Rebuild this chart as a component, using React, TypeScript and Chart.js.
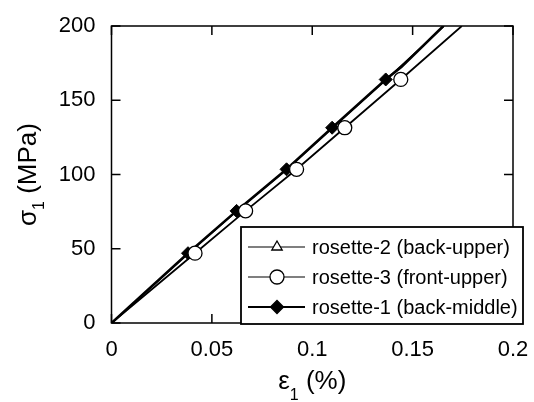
import React, { useEffect, useRef } from 'react';
import { Chart, registerables } from 'chart.js';
import { drawPoint } from 'chart.js/helpers';

Chart.register(...registerables);

// ---- data ----
const xTickValues = [0, 0.05, 0.1, 0.15, 0.2];
const xTickLabels = ['0', '0.05', '0.1', '0.15', '0.2'];
const yTickValues = [0, 50, 100, 150, 200];
const yTickLabels = ['0', '50', '100', '150', '200'];

// rosette-1 (back-middle), filled diamonds
const r1X = [0, 0.0381, 0.0623, 0.0872, 0.1099, 0.1366, 0.1445, 0.1653];
const r1Y = [0, 47, 75.5, 103.5, 131.5, 164, 172.5, 200];
const r1Marked = [false, true, true, true, true, true, false, false];

// rosette-2 (back-upper), open triangles (hidden under the diamonds)
const r2X = [0, 0.0383, 0.0625, 0.0874, 0.1101, 0.1368, 0.1657];
const r2Y = [0, 47, 75.5, 103.5, 131.5, 164, 200];
const r2Marked = [false, true, true, true, true, true, false];

// rosette-3 (front-upper), open circles
const r3X = [0, 0.0416, 0.0668, 0.0922, 0.1162, 0.1441, 0.1745];
const r3Y = [0, 47, 75.5, 103.5, 131.5, 164, 200];
const r3Marked = [false, true, true, true, true, true, false];

const legendLabels = ['rosette-2 (back-upper)', 'rosette-3 (front-upper)', 'rosette-1 (back-middle)'];

const FONT = '"Liberation Sans", Arial, Helvetica, sans-serif';

const toPoints = (xs: number[], ys: number[]) => xs.map((x, i) => ({ x, y: ys[i] }));

function drawParts(ctx: CanvasRenderingContext2D, parts: { t: string; size: number; dy: number }[], cx: number) {
  let total = 0;
  const widths = parts.map((p) => {
    ctx.font = `${p.size}px ${FONT}`;
    const w = ctx.measureText(p.t).width;
    total += w;
    return w;
  });
  let x = cx - total / 2;
  parts.forEach((p, i) => {
    ctx.font = `${p.size}px ${FONT}`;
    ctx.fillText(p.t, x, p.dy);
    x += widths[i];
  });
}

const decorPlugin = {
  id: 'decor',
  afterDraw(chart: any) {
    const { ctx, chartArea } = chart;
    const { left, right, top, bottom } = chartArea;
    const xs = chart.scales.x;
    const ys = chart.scales.y;
    ctx.save();
    ctx.strokeStyle = '#000';
    ctx.fillStyle = '#000';
    ctx.lineWidth = 1.5;
    // frame
    ctx.strokeRect(left, top, right - left, bottom - top);
    // inward ticks on all sides
    const tl = 9;
    ctx.beginPath();
    xTickValues.forEach((v) => {
      const px = xs.getPixelForValue(v);
      ctx.moveTo(px, bottom);
      ctx.lineTo(px, bottom - tl);
      ctx.moveTo(px, top);
      ctx.lineTo(px, top + tl);
    });
    yTickValues.forEach((v) => {
      const py = ys.getPixelForValue(v);
      ctx.moveTo(left, py);
      ctx.lineTo(left + tl, py);
      ctx.moveTo(right, py);
      ctx.lineTo(right - tl, py);
    });
    ctx.stroke();

    // legend box
    const bw = 282;
    const bh = 97;
    const bx = right + 10 - bw;
    const by = bottom + 1 - bh;
    ctx.fillStyle = '#fff';
    ctx.fillRect(bx, by, bw, bh);
    ctx.strokeStyle = '#000';
    ctx.lineWidth = 1.8;
    ctx.strokeRect(bx, by, bw, bh);

    const ds = chart.data.datasets;
    const byLabel: any = {};
    ds.forEach((d: any) => (byLabel[d.label] = d));
    legendLabels.forEach((lab, i) => {
      const d = byLabel[lab];
      const ry = by + 20 + i * 30;
      ctx.strokeStyle = '#000';
      ctx.lineWidth = d.legendLineWidth;
      ctx.beginPath();
      ctx.moveTo(bx + 7, ry);
      ctx.lineTo(bx + 64, ry);
      ctx.stroke();
      ctx.fillStyle = d.pointBackgroundColor;
      ctx.strokeStyle = '#000';
      ctx.lineWidth = 1.3;
      drawPoint(ctx, { pointStyle: d.pointStyle, radius: d.legendRadius, rotation: 0, borderWidth: 1.3 }, bx + 36, ry);
      ctx.fillStyle = '#000';
      ctx.font = `20px ${FONT}`;
      ctx.textBaseline = 'middle';
      ctx.textAlign = 'left';
      ctx.fillText(lab, bx + 71, ry + 1);
    });

    // axis titles with subscripts
    ctx.fillStyle = '#000';
    ctx.textBaseline = 'alphabetic';
    ctx.textAlign = 'left';
    const cx = (left + right) / 2;
    ctx.save();
    ctx.translate(0, bottom + 66);
    drawParts(ctx, [
      { t: 'ε', size: 26, dy: 0 },
      { t: '1', size: 16, dy: 11 },
      { t: ' (%)', size: 26, dy: 0 },
    ], cx);
    ctx.restore();

    const cy = (top + bottom) / 2;
    ctx.save();
    ctx.translate(left - 76, cy);
    ctx.rotate(-Math.PI / 2);
    drawParts(ctx, [
      { t: 'σ', size: 26, dy: 0 },
      { t: '1', size: 16, dy: 8 },
      { t: ' (MPa)', size: 26, dy: 0 },
    ], 0);
    ctx.restore();

    ctx.restore();
  },
};

export default function App() {
  const ref = useRef<HTMLCanvasElement | null>(null);
  useEffect(() => {
    if (!ref.current) return;
    const tickFont = { family: FONT, size: 22 };
    const chart = new Chart(ref.current, {
      type: 'scatter',
      data: {
        datasets: [
          {
            label: 'rosette-3 (front-upper)',
            data: toPoints(r3X, r3Y),
            showLine: true,
            borderColor: '#000',
            borderWidth: 1.8,
            pointStyle: 'circle',
            pointRadius: r3Marked.map((m) => (m ? 7 : 0)),
            pointBackgroundColor: '#fff',
            pointBorderColor: '#000',
            pointBorderWidth: 1.3,
            legendRadius: 7,
            legendLineWidth: 1.2,
          } as any,
          {
            label: 'rosette-1 (back-middle)',
            data: toPoints(r1X, r1Y),
            showLine: true,
            borderColor: '#000',
            borderWidth: 2.6,
            pointStyle: 'rectRot',
            pointRadius: r1Marked.map((m) => (m ? 6.5 : 0)),
            pointBackgroundColor: '#000',
            pointBorderColor: '#000',
            pointBorderWidth: 1,
            legendRadius: 6.5,
            legendLineWidth: 2,
          } as any,
          {
            label: 'rosette-2 (back-upper)',
            data: toPoints(r2X, r2Y),
            showLine: true,
            borderColor: '#000',
            borderWidth: 1.4,
            pointStyle: 'triangle',
            pointRadius: r2Marked.map((m) => (m ? 3.5 : 0)),
            pointBackgroundColor: '#fff',
            pointBorderColor: '#000',
            pointBorderWidth: 1,
            legendRadius: 6,
            legendLineWidth: 1.2,
          } as any,
        ],
      },
      options: {
        animation: false,
        responsive: false,
        events: [],
        layout: { padding: { top: 26, right: 21, left: 0, bottom: 0 } },
        plugins: { legend: { display: false }, tooltip: { enabled: false } },
        scales: {
          x: {
            type: 'linear',
            min: 0,
            max: 0.2,
            grid: { display: false, drawTicks: false, tickLength: 0 },
            border: { display: false },
            afterBuildTicks: (s: any) => {
              s.ticks = xTickValues.map((v) => ({ value: v }));
            },
            afterFit: (s: any) => {
              s.height = 79;
              s.paddingLeft = 0;
              s.paddingRight = 0;
            },
            ticks: {
              color: '#000',
              font: tickFont,
              padding: 14,
              maxRotation: 0,
              callback: (_v: any, i: number) => xTickLabels[i],
            },
          },
          y: {
            type: 'linear',
            min: 0,
            max: 200,
            grid: { display: false, drawTicks: false, tickLength: 0 },
            border: { display: false },
            afterBuildTicks: (s: any) => {
              s.ticks = yTickValues.map((v) => ({ value: v }));
            },
            afterFit: (s: any) => {
              s.width = 111.5;
              s.paddingTop = 0;
              s.paddingBottom = 0;
            },
            ticks: {
              color: '#000',
              font: tickFont,
              padding: 16,
              callback: (_v: any, i: number) => yTickLabels[i],
            },
          },
        },
      },
      plugins: [decorPlugin],
    });
    return () => chart.destroy();
  }, []);
  return (
    <canvas
      ref={ref}
      width={534}
      height={402}
      style={{ position: 'absolute', left: 0, top: 0, width: 534, height: 402, background: '#fff' }}
    />
  );
}
